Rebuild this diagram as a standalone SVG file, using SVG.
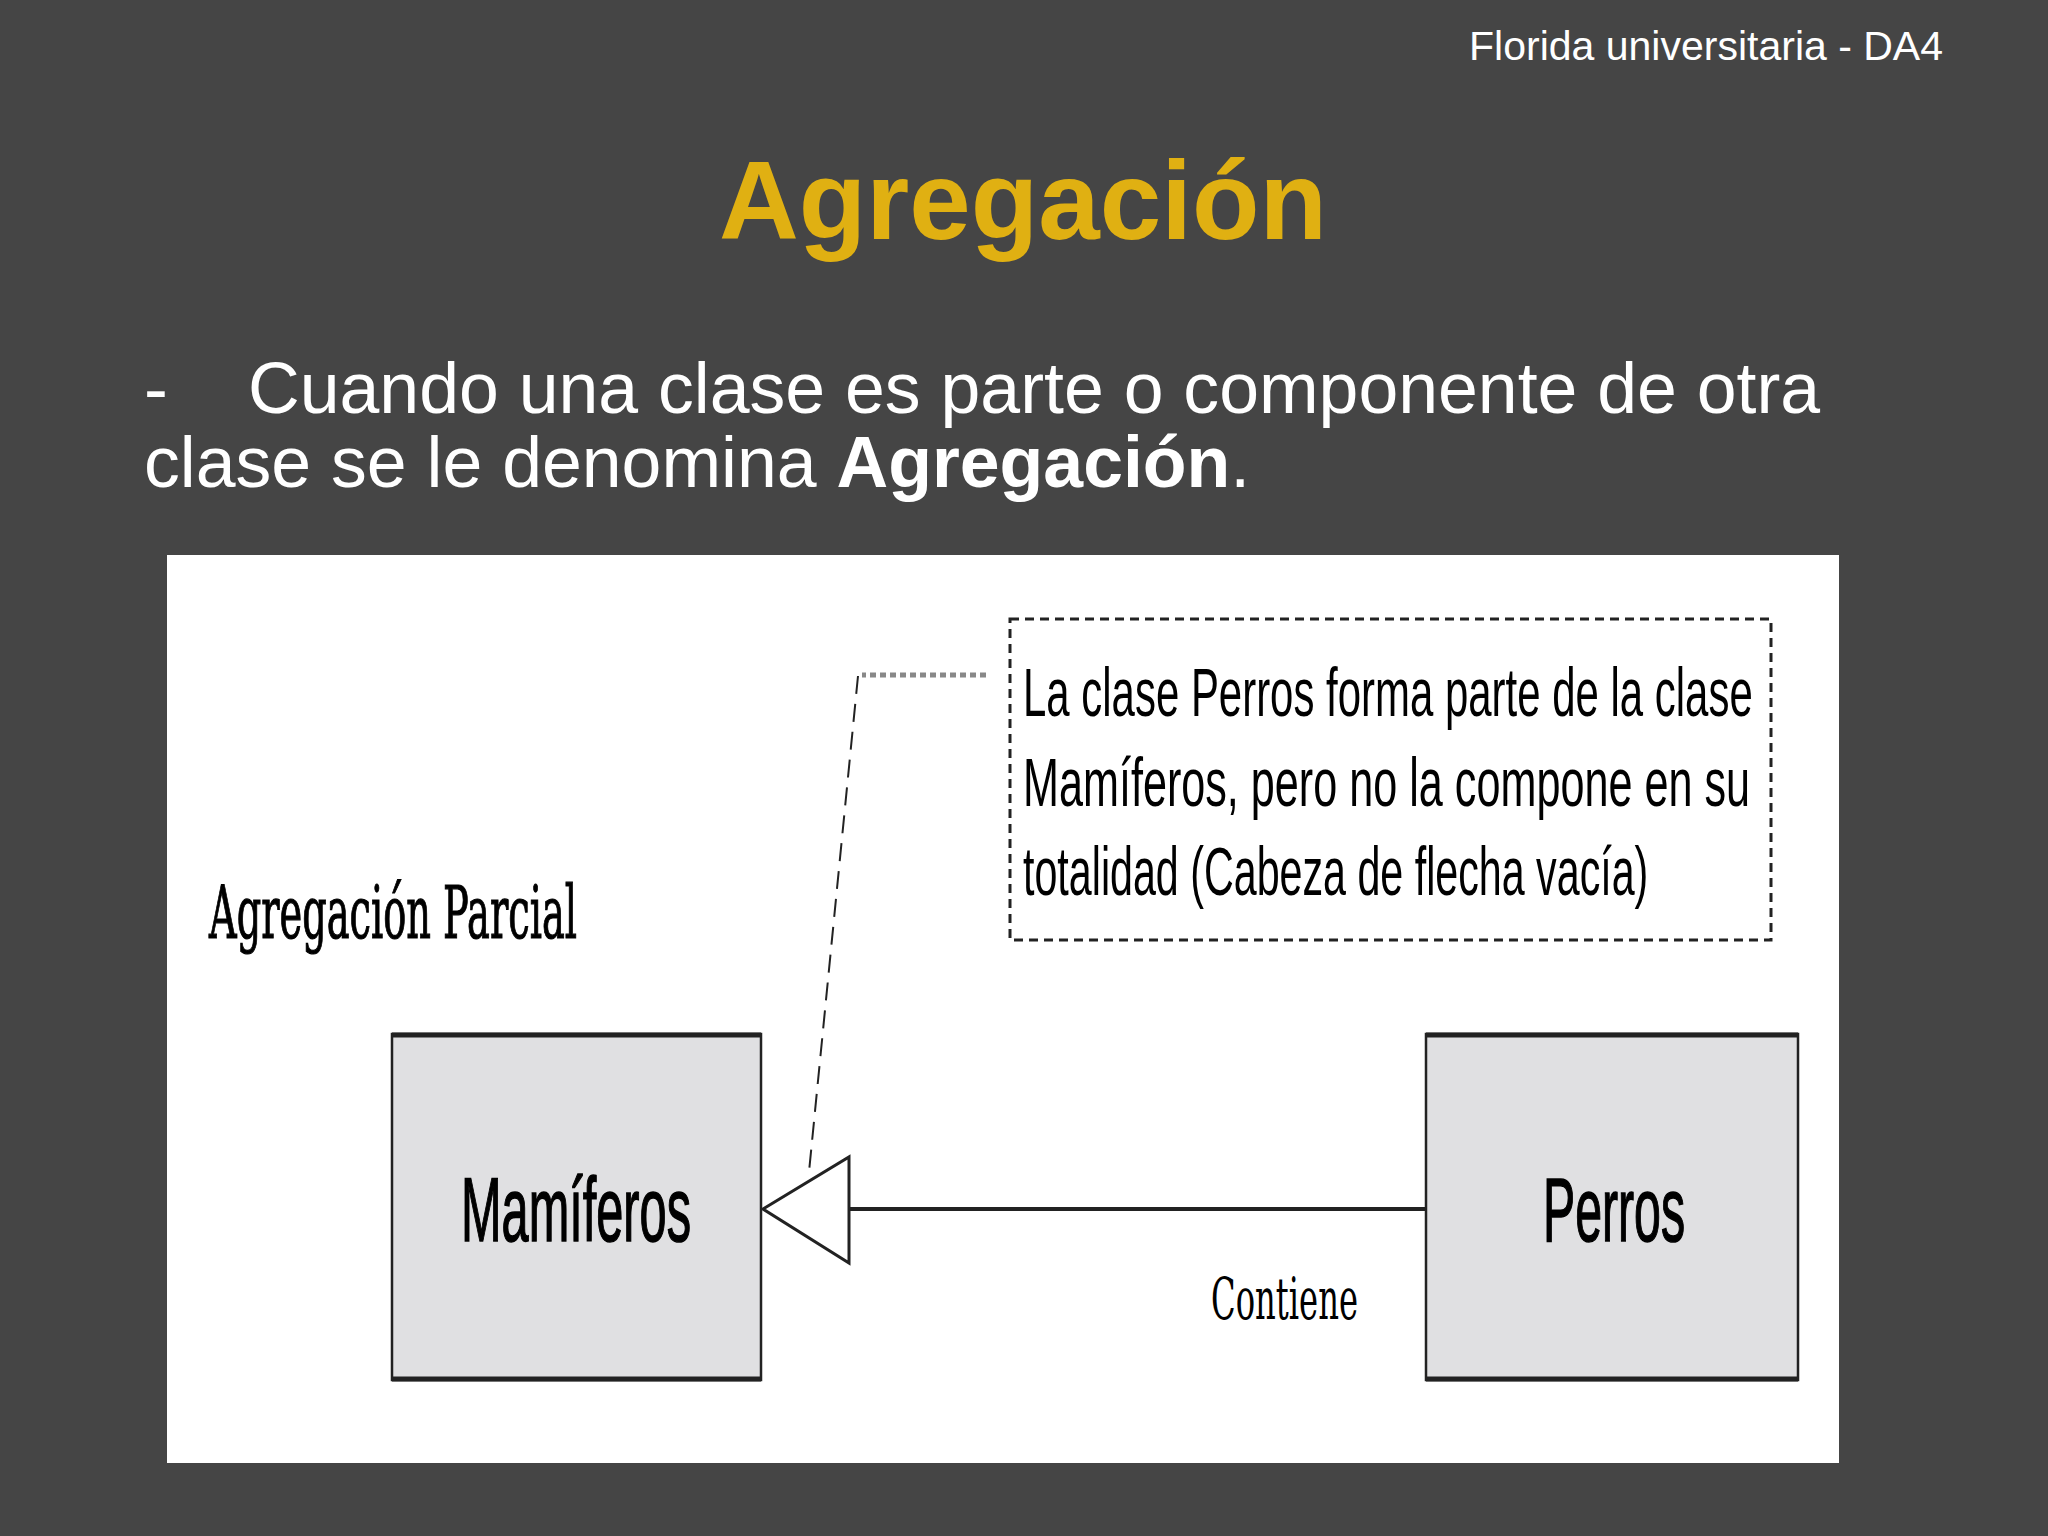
<svg xmlns="http://www.w3.org/2000/svg" width="2048" height="1536" viewBox="0 0 2048 1536">
<style>
.hdr{font-family:"Liberation Sans",Arial,sans-serif;fill:#ffffff}
.cls{font-family:"Liberation Sans",Arial,sans-serif;fill:#000000}
.ser{font-family:"DejaVu Serif","Liberation Serif",serif;fill:#000000}
.box{fill:#e0e0e2;stroke:#222222;stroke-width:2.5}
.edge{stroke:#222222;stroke-width:5}
</style>
<rect x="0" y="0" width="2048" height="1536" fill="#454545"/>
<text class="hdr" x="1943" y="60" font-size="41" text-anchor="end">Florida universitaria - DA4</text>
<text x="1023" y="239" font-family="Liberation Sans,Arial,sans-serif" font-weight="bold" font-size="110.5" fill="#e0b012" text-anchor="middle">Agregación</text>
<text class="hdr" x="144" y="413" font-size="71.6">-</text>
<text class="hdr" x="248" y="413" font-size="71.6">Cuando una clase es parte o componente de otra</text>
<text class="hdr" x="144" y="487" font-size="71.6">clase se le denomina <tspan font-weight="bold">Agregación</tspan>.</text>
<rect x="167" y="555" width="1672" height="908" fill="#ffffff"/>
<text class="ser" x="209" y="938" font-size="72" stroke="#000000" stroke-width="1.2" textLength="368" lengthAdjust="spacingAndGlyphs">Agregación Parcial</text>
<g id="note">
<rect x="1010" y="619" width="761" height="321" fill="none" stroke="#222222" stroke-width="3" stroke-dasharray="9,6"/>
<text class="cls" transform="translate(1023,716) scale(0.617,1)" font-size="68">La clase Perros forma parte de la clase</text>
<text class="cls" transform="translate(1023,806) scale(0.635,1)" font-size="68">Mamíferos, pero no la compone en su</text>
<text class="cls" transform="translate(1023,895) scale(0.606,1)" font-size="68">totalidad (Cabeza de flecha vacía)</text>
</g>
<g id="mamiferos">
<rect class="box" x="392" y="1034" width="369" height="346"/>
<line class="edge" x1="392" y1="1035" x2="761" y2="1035"/>
<line class="edge" x1="392" y1="1379" x2="761" y2="1379"/>
<text class="cls" x="576" y="1241" font-size="90" stroke="#000000" stroke-width="1.5" text-anchor="middle" textLength="230" lengthAdjust="spacingAndGlyphs">Mamíferos</text>
</g>
<g id="perros">
<rect class="box" x="1426" y="1034" width="372" height="346"/>
<line class="edge" x1="1426" y1="1035" x2="1798" y2="1035"/>
<line class="edge" x1="1426" y1="1379" x2="1798" y2="1379"/>
<text class="cls" x="1614" y="1241" font-size="90" stroke="#000000" stroke-width="1.5" text-anchor="middle" textLength="142" lengthAdjust="spacingAndGlyphs">Perros</text>
</g>
<g id="connectors">
<line x1="1426" y1="1209" x2="849" y2="1209" stroke="#222222" stroke-width="4"/>
<polygon points="763,1209 849,1157 849,1263" fill="#ffffff" stroke="#222222" stroke-width="3"/>
<line x1="986" y1="675" x2="862" y2="675" stroke="#888888" stroke-width="5" stroke-dasharray="6,4"/>
<line x1="858" y1="676" x2="809" y2="1172" stroke="#222222" stroke-width="2" stroke-dasharray="18,10"/>
<text class="ser" x="1211" y="1319" font-size="58" textLength="147" lengthAdjust="spacingAndGlyphs">Contiene</text>
</g>
</svg>
